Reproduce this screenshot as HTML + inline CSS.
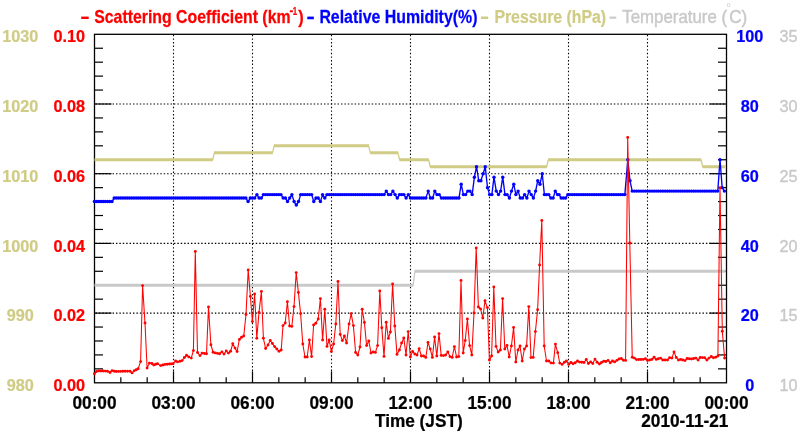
<!DOCTYPE html>
<html><head><meta charset="utf-8"><title>Scattering Coefficient 2010-11-21</title>
<style>html,body{margin:0;padding:0;background:#fff}svg{display:block;will-change:transform;opacity:0.9999}text{font-family:"Liberation Sans",Arial,Helvetica,sans-serif}</style>
</head><body>
<svg width="800" height="434" viewBox="0 0 800 434">
<rect x="0" y="0" width="800" height="434" fill="#ffffff"/>
<g stroke="#000" stroke-width="1.1" stroke-dasharray="1.4 2.2" fill="none">
<line x1="173.50" y1="381.80" x2="173.50" y2="34.30"/>
<line x1="252.50" y1="381.80" x2="252.50" y2="34.30"/>
<line x1="331.50" y1="381.80" x2="331.50" y2="34.30"/>
<line x1="410.50" y1="381.80" x2="410.50" y2="34.30"/>
<line x1="489.50" y1="381.80" x2="489.50" y2="34.30"/>
<line x1="568.50" y1="381.80" x2="568.50" y2="34.30"/>
<line x1="647.50" y1="381.80" x2="647.50" y2="34.30"/>
</g>
<g stroke="#000" stroke-width="1.1" stroke-dasharray="1.45 1.96" fill="none">
<line x1="95.50" y1="313.10" x2="726.50" y2="313.10"/>
<line x1="95.50" y1="243.40" x2="726.50" y2="243.40"/>
<line x1="95.50" y1="173.70" x2="726.50" y2="173.70"/>
<line x1="95.50" y1="104.00" x2="726.50" y2="104.00"/>
</g>
<g stroke="#000" stroke-width="1.2" fill="none">
<line x1="94.50" y1="368.86" x2="103.00" y2="368.86"/>
<line x1="726.50" y1="368.86" x2="718.00" y2="368.86"/>
<line x1="94.50" y1="354.92" x2="103.00" y2="354.92"/>
<line x1="726.50" y1="354.92" x2="718.00" y2="354.92"/>
<line x1="94.50" y1="340.98" x2="103.00" y2="340.98"/>
<line x1="726.50" y1="340.98" x2="718.00" y2="340.98"/>
<line x1="94.50" y1="327.04" x2="103.00" y2="327.04"/>
<line x1="726.50" y1="327.04" x2="718.00" y2="327.04"/>
<line x1="94.50" y1="313.10" x2="111.50" y2="313.10"/>
<line x1="726.50" y1="313.10" x2="709.50" y2="313.10"/>
<line x1="94.50" y1="299.16" x2="103.00" y2="299.16"/>
<line x1="726.50" y1="299.16" x2="718.00" y2="299.16"/>
<line x1="94.50" y1="285.22" x2="103.00" y2="285.22"/>
<line x1="726.50" y1="285.22" x2="718.00" y2="285.22"/>
<line x1="94.50" y1="271.28" x2="103.00" y2="271.28"/>
<line x1="726.50" y1="271.28" x2="718.00" y2="271.28"/>
<line x1="94.50" y1="257.34" x2="103.00" y2="257.34"/>
<line x1="726.50" y1="257.34" x2="718.00" y2="257.34"/>
<line x1="94.50" y1="243.40" x2="111.50" y2="243.40"/>
<line x1="726.50" y1="243.40" x2="709.50" y2="243.40"/>
<line x1="94.50" y1="229.46" x2="103.00" y2="229.46"/>
<line x1="726.50" y1="229.46" x2="718.00" y2="229.46"/>
<line x1="94.50" y1="215.52" x2="103.00" y2="215.52"/>
<line x1="726.50" y1="215.52" x2="718.00" y2="215.52"/>
<line x1="94.50" y1="201.58" x2="103.00" y2="201.58"/>
<line x1="726.50" y1="201.58" x2="718.00" y2="201.58"/>
<line x1="94.50" y1="187.64" x2="103.00" y2="187.64"/>
<line x1="726.50" y1="187.64" x2="718.00" y2="187.64"/>
<line x1="94.50" y1="173.70" x2="111.50" y2="173.70"/>
<line x1="726.50" y1="173.70" x2="709.50" y2="173.70"/>
<line x1="94.50" y1="159.76" x2="103.00" y2="159.76"/>
<line x1="726.50" y1="159.76" x2="718.00" y2="159.76"/>
<line x1="94.50" y1="145.82" x2="103.00" y2="145.82"/>
<line x1="726.50" y1="145.82" x2="718.00" y2="145.82"/>
<line x1="94.50" y1="131.88" x2="103.00" y2="131.88"/>
<line x1="726.50" y1="131.88" x2="718.00" y2="131.88"/>
<line x1="94.50" y1="117.94" x2="103.00" y2="117.94"/>
<line x1="726.50" y1="117.94" x2="718.00" y2="117.94"/>
<line x1="94.50" y1="104.00" x2="111.50" y2="104.00"/>
<line x1="726.50" y1="104.00" x2="709.50" y2="104.00"/>
<line x1="94.50" y1="90.06" x2="103.00" y2="90.06"/>
<line x1="726.50" y1="90.06" x2="718.00" y2="90.06"/>
<line x1="94.50" y1="76.12" x2="103.00" y2="76.12"/>
<line x1="726.50" y1="76.12" x2="718.00" y2="76.12"/>
<line x1="94.50" y1="62.18" x2="103.00" y2="62.18"/>
<line x1="726.50" y1="62.18" x2="718.00" y2="62.18"/>
<line x1="94.50" y1="48.24" x2="103.00" y2="48.24"/>
<line x1="726.50" y1="48.24" x2="718.00" y2="48.24"/>
<line x1="120.83" y1="382.80" x2="120.83" y2="377.30"/>
<line x1="147.17" y1="382.80" x2="147.17" y2="377.30"/>
<line x1="173.50" y1="382.80" x2="173.50" y2="371.30"/>
<line x1="199.83" y1="382.80" x2="199.83" y2="377.30"/>
<line x1="226.17" y1="382.80" x2="226.17" y2="377.30"/>
<line x1="252.50" y1="382.80" x2="252.50" y2="371.30"/>
<line x1="278.83" y1="382.80" x2="278.83" y2="377.30"/>
<line x1="305.17" y1="382.80" x2="305.17" y2="377.30"/>
<line x1="331.50" y1="382.80" x2="331.50" y2="371.30"/>
<line x1="357.83" y1="382.80" x2="357.83" y2="377.30"/>
<line x1="384.17" y1="382.80" x2="384.17" y2="377.30"/>
<line x1="410.50" y1="382.80" x2="410.50" y2="371.30"/>
<line x1="436.83" y1="382.80" x2="436.83" y2="377.30"/>
<line x1="463.17" y1="382.80" x2="463.17" y2="377.30"/>
<line x1="489.50" y1="382.80" x2="489.50" y2="371.30"/>
<line x1="515.83" y1="382.80" x2="515.83" y2="377.30"/>
<line x1="542.17" y1="382.80" x2="542.17" y2="377.30"/>
<line x1="568.50" y1="382.80" x2="568.50" y2="371.30"/>
<line x1="594.83" y1="382.80" x2="594.83" y2="377.30"/>
<line x1="621.17" y1="382.80" x2="621.17" y2="377.30"/>
<line x1="647.50" y1="382.80" x2="647.50" y2="371.30"/>
<line x1="673.83" y1="382.80" x2="673.83" y2="377.30"/>
<line x1="700.17" y1="382.80" x2="700.17" y2="377.30"/>
</g>
<rect x="94.50" y="34.30" width="632.00" height="348.50" fill="none" stroke="#000" stroke-width="1.3"/>
<path d="M94.50 159.76H212.95 M214.05 152.79H272.75 M273.85 145.82H368.95 M370.05 152.79H398.20 M399.30 159.76H428.85 M429.95 166.73H546.95 M548.05 159.76H701.35 M702.45 166.73H725.60" fill="none" stroke="#d0cc86" stroke-width="3.00"/>
<path d="M212.65 159.76L214.35 152.79 M272.45 152.79L274.15 145.82 M368.65 145.82L370.35 152.79 M397.90 152.79L399.60 159.76 M428.55 159.76L430.25 166.73 M546.65 166.73L548.35 159.76 M701.05 159.76L702.75 166.73" fill="none" stroke="#d0cc86" stroke-width="1.3"/>
<path d="M94.50 285.22H413.45 M414.55 271.28H725.60" fill="none" stroke="#c9c9c9" stroke-width="3.00"/>
<path d="M413.15 285.22L414.85 271.28" fill="none" stroke="#c9c9c9" stroke-width="1.3"/>
<polyline points="94.40,201.58 96.59,201.58 98.79,201.58 100.98,201.58 103.18,201.58 105.37,201.58 107.57,201.58 109.76,201.58 111.96,201.58 114.20,198.09 116.39,198.09 118.59,198.09 120.78,198.09 122.98,198.09 125.17,198.09 127.37,198.09 129.56,198.09 131.76,198.09 133.95,198.09 136.14,198.09 138.34,198.09 140.53,198.09 142.73,198.09 144.92,198.09 147.12,198.09 149.31,198.09 151.51,198.09 153.70,198.09 155.89,198.09 158.09,198.09 160.28,198.09 162.48,198.09 164.67,198.09 166.87,198.09 169.06,198.09 171.26,198.09 173.45,198.09 175.64,198.09 177.84,198.09 180.03,198.09 182.23,198.09 184.42,198.09 186.62,198.09 188.81,198.09 191.01,198.09 193.20,198.09 195.39,198.09 197.59,198.09 199.78,198.09 201.98,198.09 204.17,198.09 206.37,198.09 208.56,198.09 210.76,198.09 212.95,198.09 215.14,198.09 217.34,198.09 219.53,198.09 221.73,198.09 223.92,198.09 226.12,198.09 228.31,198.09 230.51,198.09 232.70,198.09 234.89,198.09 237.09,198.09 239.28,198.09 241.48,198.09 243.67,198.09 245.87,198.09 248.10,201.58 250.30,198.09 252.49,198.09 254.69,198.09 256.90,194.61 259.10,198.09 261.29,198.09 263.40,194.61 265.59,194.61 267.79,194.61 269.98,194.61 272.18,194.61 274.37,194.61 276.57,194.61 278.76,194.61 280.96,194.61 283.20,198.09 285.39,198.09 287.50,201.58 289.70,198.09 291.90,194.61 294.10,201.58 296.30,205.06 298.50,201.58 300.70,194.61 302.89,194.61 305.09,194.61 307.28,194.61 309.48,194.61 311.67,194.61 313.80,201.58 316.00,198.09 318.19,198.09 320.40,201.58 322.60,194.61 324.80,198.09 327.00,194.61 329.19,194.61 331.39,194.61 333.58,194.61 335.78,194.61 337.97,194.61 340.17,194.61 342.36,194.61 344.56,194.61 346.75,194.61 348.94,194.61 351.14,194.61 353.33,194.61 355.53,194.61 357.72,194.61 359.92,194.61 362.11,194.61 364.31,194.61 366.50,194.61 368.69,194.61 370.89,194.61 373.08,194.61 375.28,194.61 377.47,194.61 379.67,194.61 381.86,194.61 384.06,194.61 386.30,191.12 388.50,194.61 390.69,194.61 392.90,191.12 395.10,194.61 397.30,198.09 399.50,194.61 401.69,194.61 403.89,194.61 406.10,198.09 408.30,194.61 410.50,198.09 412.69,198.09 414.89,198.09 417.08,198.09 419.28,198.09 421.47,198.09 423.67,198.09 425.86,198.09 428.20,191.12 430.40,198.09 432.59,198.09 434.80,191.12 437.00,194.61 439.19,194.61 441.40,198.09 443.59,198.09 445.79,198.09 447.98,198.09 450.18,198.09 452.37,198.09 454.57,198.09 456.76,198.09 458.96,198.09 461.20,184.16 463.40,194.61 465.59,194.61 467.80,191.12 469.99,191.12 472.20,194.61 474.38,177.19 476.50,166.73 478.75,180.67 480.88,180.67 483.12,173.70 485.25,166.73 487.50,187.64 489.62,194.61 491.88,194.61 494.00,177.19 496.25,191.12 498.50,194.61 500.62,191.12 502.75,177.19 505.00,194.61 507.12,194.61 509.38,198.09 511.50,191.12 513.75,184.16 515.88,194.61 518.12,191.12 520.25,198.09 522.50,198.09 524.62,194.61 526.88,198.09 529.00,191.12 531.25,194.61 533.38,198.09 535.62,191.12 537.75,180.67 540.00,184.16 542.25,173.70 544.38,194.61 546.50,194.61 548.75,194.61 550.88,198.09 553.12,198.09 555.25,191.12 557.50,194.61 559.00,194.61 561.20,198.09 563.39,198.09 565.59,198.09 567.80,194.61 569.99,194.61 572.19,194.61 574.38,194.61 576.58,194.61 578.77,194.61 580.97,194.61 583.16,194.61 585.36,194.61 587.55,194.61 589.74,194.61 591.94,194.61 594.13,194.61 596.33,194.61 598.52,194.61 600.72,194.61 602.91,194.61 605.11,194.61 607.30,194.61 609.49,194.61 611.69,194.61 613.88,194.61 616.08,194.61 618.27,194.61 620.47,194.61 622.66,194.61 624.86,194.61 627.80,159.76 630.00,180.67 632.20,191.12 634.39,191.12 636.59,191.12 638.78,191.12 640.98,191.12 643.17,191.12 645.37,191.12 647.56,191.12 649.76,191.12 651.95,191.12 654.14,191.12 656.34,191.12 658.53,191.12 660.73,191.12 662.92,191.12 665.12,191.12 667.31,191.12 669.51,191.12 671.70,191.12 673.89,191.12 676.09,191.12 678.28,191.12 680.48,191.12 682.67,191.12 684.87,191.12 687.06,191.12 689.26,191.12 691.45,191.12 693.64,191.12 695.84,191.12 698.03,191.12 700.23,191.12 702.42,191.12 704.62,191.12 706.81,191.12 709.01,191.12 711.20,191.12 713.39,191.12 715.59,191.12 717.78,191.12 720.00,159.76 722.20,187.64 724.40,191.12" fill="none" stroke="#0000ff" stroke-width="1.35" stroke-linejoin="round"/>
<g fill="#0000ff">
<circle cx="94.40" cy="201.58" r="1.72"/>
<circle cx="96.59" cy="201.58" r="1.72"/>
<circle cx="98.79" cy="201.58" r="1.72"/>
<circle cx="100.98" cy="201.58" r="1.72"/>
<circle cx="103.18" cy="201.58" r="1.72"/>
<circle cx="105.37" cy="201.58" r="1.72"/>
<circle cx="107.57" cy="201.58" r="1.72"/>
<circle cx="109.76" cy="201.58" r="1.72"/>
<circle cx="111.96" cy="201.58" r="1.72"/>
<circle cx="114.20" cy="198.09" r="1.72"/>
<circle cx="116.39" cy="198.09" r="1.72"/>
<circle cx="118.59" cy="198.09" r="1.72"/>
<circle cx="120.78" cy="198.09" r="1.72"/>
<circle cx="122.98" cy="198.09" r="1.72"/>
<circle cx="125.17" cy="198.09" r="1.72"/>
<circle cx="127.37" cy="198.09" r="1.72"/>
<circle cx="129.56" cy="198.09" r="1.72"/>
<circle cx="131.76" cy="198.09" r="1.72"/>
<circle cx="133.95" cy="198.09" r="1.72"/>
<circle cx="136.14" cy="198.09" r="1.72"/>
<circle cx="138.34" cy="198.09" r="1.72"/>
<circle cx="140.53" cy="198.09" r="1.72"/>
<circle cx="142.73" cy="198.09" r="1.72"/>
<circle cx="144.92" cy="198.09" r="1.72"/>
<circle cx="147.12" cy="198.09" r="1.72"/>
<circle cx="149.31" cy="198.09" r="1.72"/>
<circle cx="151.51" cy="198.09" r="1.72"/>
<circle cx="153.70" cy="198.09" r="1.72"/>
<circle cx="155.89" cy="198.09" r="1.72"/>
<circle cx="158.09" cy="198.09" r="1.72"/>
<circle cx="160.28" cy="198.09" r="1.72"/>
<circle cx="162.48" cy="198.09" r="1.72"/>
<circle cx="164.67" cy="198.09" r="1.72"/>
<circle cx="166.87" cy="198.09" r="1.72"/>
<circle cx="169.06" cy="198.09" r="1.72"/>
<circle cx="171.26" cy="198.09" r="1.72"/>
<circle cx="173.45" cy="198.09" r="1.72"/>
<circle cx="175.64" cy="198.09" r="1.72"/>
<circle cx="177.84" cy="198.09" r="1.72"/>
<circle cx="180.03" cy="198.09" r="1.72"/>
<circle cx="182.23" cy="198.09" r="1.72"/>
<circle cx="184.42" cy="198.09" r="1.72"/>
<circle cx="186.62" cy="198.09" r="1.72"/>
<circle cx="188.81" cy="198.09" r="1.72"/>
<circle cx="191.01" cy="198.09" r="1.72"/>
<circle cx="193.20" cy="198.09" r="1.72"/>
<circle cx="195.39" cy="198.09" r="1.72"/>
<circle cx="197.59" cy="198.09" r="1.72"/>
<circle cx="199.78" cy="198.09" r="1.72"/>
<circle cx="201.98" cy="198.09" r="1.72"/>
<circle cx="204.17" cy="198.09" r="1.72"/>
<circle cx="206.37" cy="198.09" r="1.72"/>
<circle cx="208.56" cy="198.09" r="1.72"/>
<circle cx="210.76" cy="198.09" r="1.72"/>
<circle cx="212.95" cy="198.09" r="1.72"/>
<circle cx="215.14" cy="198.09" r="1.72"/>
<circle cx="217.34" cy="198.09" r="1.72"/>
<circle cx="219.53" cy="198.09" r="1.72"/>
<circle cx="221.73" cy="198.09" r="1.72"/>
<circle cx="223.92" cy="198.09" r="1.72"/>
<circle cx="226.12" cy="198.09" r="1.72"/>
<circle cx="228.31" cy="198.09" r="1.72"/>
<circle cx="230.51" cy="198.09" r="1.72"/>
<circle cx="232.70" cy="198.09" r="1.72"/>
<circle cx="234.89" cy="198.09" r="1.72"/>
<circle cx="237.09" cy="198.09" r="1.72"/>
<circle cx="239.28" cy="198.09" r="1.72"/>
<circle cx="241.48" cy="198.09" r="1.72"/>
<circle cx="243.67" cy="198.09" r="1.72"/>
<circle cx="245.87" cy="198.09" r="1.72"/>
<circle cx="248.10" cy="201.58" r="1.72"/>
<circle cx="250.30" cy="198.09" r="1.72"/>
<circle cx="252.49" cy="198.09" r="1.72"/>
<circle cx="254.69" cy="198.09" r="1.72"/>
<circle cx="256.90" cy="194.61" r="1.72"/>
<circle cx="259.10" cy="198.09" r="1.72"/>
<circle cx="261.29" cy="198.09" r="1.72"/>
<circle cx="263.40" cy="194.61" r="1.72"/>
<circle cx="265.59" cy="194.61" r="1.72"/>
<circle cx="267.79" cy="194.61" r="1.72"/>
<circle cx="269.98" cy="194.61" r="1.72"/>
<circle cx="272.18" cy="194.61" r="1.72"/>
<circle cx="274.37" cy="194.61" r="1.72"/>
<circle cx="276.57" cy="194.61" r="1.72"/>
<circle cx="278.76" cy="194.61" r="1.72"/>
<circle cx="280.96" cy="194.61" r="1.72"/>
<circle cx="283.20" cy="198.09" r="1.72"/>
<circle cx="285.39" cy="198.09" r="1.72"/>
<circle cx="287.50" cy="201.58" r="1.72"/>
<circle cx="289.70" cy="198.09" r="1.72"/>
<circle cx="291.90" cy="194.61" r="1.72"/>
<circle cx="294.10" cy="201.58" r="1.72"/>
<circle cx="296.30" cy="205.06" r="1.72"/>
<circle cx="298.50" cy="201.58" r="1.72"/>
<circle cx="300.70" cy="194.61" r="1.72"/>
<circle cx="302.89" cy="194.61" r="1.72"/>
<circle cx="305.09" cy="194.61" r="1.72"/>
<circle cx="307.28" cy="194.61" r="1.72"/>
<circle cx="309.48" cy="194.61" r="1.72"/>
<circle cx="311.67" cy="194.61" r="1.72"/>
<circle cx="313.80" cy="201.58" r="1.72"/>
<circle cx="316.00" cy="198.09" r="1.72"/>
<circle cx="318.19" cy="198.09" r="1.72"/>
<circle cx="320.40" cy="201.58" r="1.72"/>
<circle cx="322.60" cy="194.61" r="1.72"/>
<circle cx="324.80" cy="198.09" r="1.72"/>
<circle cx="327.00" cy="194.61" r="1.72"/>
<circle cx="329.19" cy="194.61" r="1.72"/>
<circle cx="331.39" cy="194.61" r="1.72"/>
<circle cx="333.58" cy="194.61" r="1.72"/>
<circle cx="335.78" cy="194.61" r="1.72"/>
<circle cx="337.97" cy="194.61" r="1.72"/>
<circle cx="340.17" cy="194.61" r="1.72"/>
<circle cx="342.36" cy="194.61" r="1.72"/>
<circle cx="344.56" cy="194.61" r="1.72"/>
<circle cx="346.75" cy="194.61" r="1.72"/>
<circle cx="348.94" cy="194.61" r="1.72"/>
<circle cx="351.14" cy="194.61" r="1.72"/>
<circle cx="353.33" cy="194.61" r="1.72"/>
<circle cx="355.53" cy="194.61" r="1.72"/>
<circle cx="357.72" cy="194.61" r="1.72"/>
<circle cx="359.92" cy="194.61" r="1.72"/>
<circle cx="362.11" cy="194.61" r="1.72"/>
<circle cx="364.31" cy="194.61" r="1.72"/>
<circle cx="366.50" cy="194.61" r="1.72"/>
<circle cx="368.69" cy="194.61" r="1.72"/>
<circle cx="370.89" cy="194.61" r="1.72"/>
<circle cx="373.08" cy="194.61" r="1.72"/>
<circle cx="375.28" cy="194.61" r="1.72"/>
<circle cx="377.47" cy="194.61" r="1.72"/>
<circle cx="379.67" cy="194.61" r="1.72"/>
<circle cx="381.86" cy="194.61" r="1.72"/>
<circle cx="384.06" cy="194.61" r="1.72"/>
<circle cx="386.30" cy="191.12" r="1.72"/>
<circle cx="388.50" cy="194.61" r="1.72"/>
<circle cx="390.69" cy="194.61" r="1.72"/>
<circle cx="392.90" cy="191.12" r="1.72"/>
<circle cx="395.10" cy="194.61" r="1.72"/>
<circle cx="397.30" cy="198.09" r="1.72"/>
<circle cx="399.50" cy="194.61" r="1.72"/>
<circle cx="401.69" cy="194.61" r="1.72"/>
<circle cx="403.89" cy="194.61" r="1.72"/>
<circle cx="406.10" cy="198.09" r="1.72"/>
<circle cx="408.30" cy="194.61" r="1.72"/>
<circle cx="410.50" cy="198.09" r="1.72"/>
<circle cx="412.69" cy="198.09" r="1.72"/>
<circle cx="414.89" cy="198.09" r="1.72"/>
<circle cx="417.08" cy="198.09" r="1.72"/>
<circle cx="419.28" cy="198.09" r="1.72"/>
<circle cx="421.47" cy="198.09" r="1.72"/>
<circle cx="423.67" cy="198.09" r="1.72"/>
<circle cx="425.86" cy="198.09" r="1.72"/>
<circle cx="428.20" cy="191.12" r="1.72"/>
<circle cx="430.40" cy="198.09" r="1.72"/>
<circle cx="432.59" cy="198.09" r="1.72"/>
<circle cx="434.80" cy="191.12" r="1.72"/>
<circle cx="437.00" cy="194.61" r="1.72"/>
<circle cx="439.19" cy="194.61" r="1.72"/>
<circle cx="441.40" cy="198.09" r="1.72"/>
<circle cx="443.59" cy="198.09" r="1.72"/>
<circle cx="445.79" cy="198.09" r="1.72"/>
<circle cx="447.98" cy="198.09" r="1.72"/>
<circle cx="450.18" cy="198.09" r="1.72"/>
<circle cx="452.37" cy="198.09" r="1.72"/>
<circle cx="454.57" cy="198.09" r="1.72"/>
<circle cx="456.76" cy="198.09" r="1.72"/>
<circle cx="458.96" cy="198.09" r="1.72"/>
<circle cx="461.20" cy="184.16" r="1.72"/>
<circle cx="463.40" cy="194.61" r="1.72"/>
<circle cx="465.59" cy="194.61" r="1.72"/>
<circle cx="467.80" cy="191.12" r="1.72"/>
<circle cx="469.99" cy="191.12" r="1.72"/>
<circle cx="472.20" cy="194.61" r="1.72"/>
<circle cx="474.38" cy="177.19" r="1.72"/>
<circle cx="476.50" cy="166.73" r="1.72"/>
<circle cx="478.75" cy="180.67" r="1.72"/>
<circle cx="480.88" cy="180.67" r="1.72"/>
<circle cx="483.12" cy="173.70" r="1.72"/>
<circle cx="485.25" cy="166.73" r="1.72"/>
<circle cx="487.50" cy="187.64" r="1.72"/>
<circle cx="489.62" cy="194.61" r="1.72"/>
<circle cx="491.88" cy="194.61" r="1.72"/>
<circle cx="494.00" cy="177.19" r="1.72"/>
<circle cx="496.25" cy="191.12" r="1.72"/>
<circle cx="498.50" cy="194.61" r="1.72"/>
<circle cx="500.62" cy="191.12" r="1.72"/>
<circle cx="502.75" cy="177.19" r="1.72"/>
<circle cx="505.00" cy="194.61" r="1.72"/>
<circle cx="507.12" cy="194.61" r="1.72"/>
<circle cx="509.38" cy="198.09" r="1.72"/>
<circle cx="511.50" cy="191.12" r="1.72"/>
<circle cx="513.75" cy="184.16" r="1.72"/>
<circle cx="515.88" cy="194.61" r="1.72"/>
<circle cx="518.12" cy="191.12" r="1.72"/>
<circle cx="520.25" cy="198.09" r="1.72"/>
<circle cx="522.50" cy="198.09" r="1.72"/>
<circle cx="524.62" cy="194.61" r="1.72"/>
<circle cx="526.88" cy="198.09" r="1.72"/>
<circle cx="529.00" cy="191.12" r="1.72"/>
<circle cx="531.25" cy="194.61" r="1.72"/>
<circle cx="533.38" cy="198.09" r="1.72"/>
<circle cx="535.62" cy="191.12" r="1.72"/>
<circle cx="537.75" cy="180.67" r="1.72"/>
<circle cx="540.00" cy="184.16" r="1.72"/>
<circle cx="542.25" cy="173.70" r="1.72"/>
<circle cx="544.38" cy="194.61" r="1.72"/>
<circle cx="546.50" cy="194.61" r="1.72"/>
<circle cx="548.75" cy="194.61" r="1.72"/>
<circle cx="550.88" cy="198.09" r="1.72"/>
<circle cx="553.12" cy="198.09" r="1.72"/>
<circle cx="555.25" cy="191.12" r="1.72"/>
<circle cx="557.50" cy="194.61" r="1.72"/>
<circle cx="559.00" cy="194.61" r="1.72"/>
<circle cx="561.20" cy="198.09" r="1.72"/>
<circle cx="563.39" cy="198.09" r="1.72"/>
<circle cx="565.59" cy="198.09" r="1.72"/>
<circle cx="567.80" cy="194.61" r="1.72"/>
<circle cx="569.99" cy="194.61" r="1.72"/>
<circle cx="572.19" cy="194.61" r="1.72"/>
<circle cx="574.38" cy="194.61" r="1.72"/>
<circle cx="576.58" cy="194.61" r="1.72"/>
<circle cx="578.77" cy="194.61" r="1.72"/>
<circle cx="580.97" cy="194.61" r="1.72"/>
<circle cx="583.16" cy="194.61" r="1.72"/>
<circle cx="585.36" cy="194.61" r="1.72"/>
<circle cx="587.55" cy="194.61" r="1.72"/>
<circle cx="589.74" cy="194.61" r="1.72"/>
<circle cx="591.94" cy="194.61" r="1.72"/>
<circle cx="594.13" cy="194.61" r="1.72"/>
<circle cx="596.33" cy="194.61" r="1.72"/>
<circle cx="598.52" cy="194.61" r="1.72"/>
<circle cx="600.72" cy="194.61" r="1.72"/>
<circle cx="602.91" cy="194.61" r="1.72"/>
<circle cx="605.11" cy="194.61" r="1.72"/>
<circle cx="607.30" cy="194.61" r="1.72"/>
<circle cx="609.49" cy="194.61" r="1.72"/>
<circle cx="611.69" cy="194.61" r="1.72"/>
<circle cx="613.88" cy="194.61" r="1.72"/>
<circle cx="616.08" cy="194.61" r="1.72"/>
<circle cx="618.27" cy="194.61" r="1.72"/>
<circle cx="620.47" cy="194.61" r="1.72"/>
<circle cx="622.66" cy="194.61" r="1.72"/>
<circle cx="624.86" cy="194.61" r="1.72"/>
<circle cx="627.80" cy="159.76" r="1.72"/>
<circle cx="630.00" cy="180.67" r="1.72"/>
<circle cx="632.20" cy="191.12" r="1.72"/>
<circle cx="634.39" cy="191.12" r="1.72"/>
<circle cx="636.59" cy="191.12" r="1.72"/>
<circle cx="638.78" cy="191.12" r="1.72"/>
<circle cx="640.98" cy="191.12" r="1.72"/>
<circle cx="643.17" cy="191.12" r="1.72"/>
<circle cx="645.37" cy="191.12" r="1.72"/>
<circle cx="647.56" cy="191.12" r="1.72"/>
<circle cx="649.76" cy="191.12" r="1.72"/>
<circle cx="651.95" cy="191.12" r="1.72"/>
<circle cx="654.14" cy="191.12" r="1.72"/>
<circle cx="656.34" cy="191.12" r="1.72"/>
<circle cx="658.53" cy="191.12" r="1.72"/>
<circle cx="660.73" cy="191.12" r="1.72"/>
<circle cx="662.92" cy="191.12" r="1.72"/>
<circle cx="665.12" cy="191.12" r="1.72"/>
<circle cx="667.31" cy="191.12" r="1.72"/>
<circle cx="669.51" cy="191.12" r="1.72"/>
<circle cx="671.70" cy="191.12" r="1.72"/>
<circle cx="673.89" cy="191.12" r="1.72"/>
<circle cx="676.09" cy="191.12" r="1.72"/>
<circle cx="678.28" cy="191.12" r="1.72"/>
<circle cx="680.48" cy="191.12" r="1.72"/>
<circle cx="682.67" cy="191.12" r="1.72"/>
<circle cx="684.87" cy="191.12" r="1.72"/>
<circle cx="687.06" cy="191.12" r="1.72"/>
<circle cx="689.26" cy="191.12" r="1.72"/>
<circle cx="691.45" cy="191.12" r="1.72"/>
<circle cx="693.64" cy="191.12" r="1.72"/>
<circle cx="695.84" cy="191.12" r="1.72"/>
<circle cx="698.03" cy="191.12" r="1.72"/>
<circle cx="700.23" cy="191.12" r="1.72"/>
<circle cx="702.42" cy="191.12" r="1.72"/>
<circle cx="704.62" cy="191.12" r="1.72"/>
<circle cx="706.81" cy="191.12" r="1.72"/>
<circle cx="709.01" cy="191.12" r="1.72"/>
<circle cx="711.20" cy="191.12" r="1.72"/>
<circle cx="713.39" cy="191.12" r="1.72"/>
<circle cx="715.59" cy="191.12" r="1.72"/>
<circle cx="717.78" cy="191.12" r="1.72"/>
<circle cx="720.00" cy="159.76" r="1.72"/>
<circle cx="722.20" cy="187.64" r="1.72"/>
<circle cx="724.40" cy="191.12" r="1.72"/>
</g>
<polyline points="94.40,373.75 96.50,371.50 98.75,370.90 101.00,371.00 103.20,371.00 105.40,371.10 107.50,371.25 110.00,372.50 112.10,370.60 114.20,371.20 116.25,371.50 118.50,371.40 120.70,371.40 122.90,371.30 125.10,371.30 127.50,371.25 130.00,371.25 132.10,372.90 134.40,370.60 136.30,369.80 138.10,368.75 140.60,361.60 142.60,285.60 145.00,323.00 147.10,368.10 149.40,363.10 151.90,363.50 153.75,365.00 155.70,364.30 157.50,363.75 160.60,365.60 162.80,365.00 165.00,364.40 167.20,364.20 169.40,364.00 171.30,363.90 173.10,363.75 175.60,361.00 177.50,361.90 180.00,361.25 182.10,360.60 184.40,357.50 186.50,355.30 188.75,356.90 191.25,358.10 193.40,350.60 195.30,251.40 197.50,352.50 200.00,355.60 202.10,353.10 204.40,353.50 206.50,353.75 208.50,307.00 210.90,344.75 213.10,352.25 215.25,352.90 217.50,353.40 219.60,353.75 221.90,351.90 224.00,354.10 226.25,350.90 228.40,353.10 230.60,351.25 232.75,343.75 235.00,348.10 237.10,351.50 239.40,339.40 241.50,337.25 243.75,336.00 246.00,314.40 248.20,270.00 250.40,296.40 252.40,321.60 254.60,294.00 256.80,338.20 259.00,312.40 261.40,291.40 263.40,338.30 265.60,348.50 268.00,345.00 270.20,340.40 272.40,343.50 274.60,346.60 276.80,349.00 279.00,351.20 281.20,350.00 283.00,325.60 285.20,323.00 287.40,301.80 289.60,326.00 291.80,326.40 294.00,306.60 296.20,272.60 298.40,292.40 300.60,313.60 302.80,344.00 305.00,357.00 307.20,357.00 309.40,340.00 311.60,356.60 313.60,325.00 315.80,323.20 318.20,319.00 320.40,298.60 322.60,340.00 324.80,309.20 327.00,346.40 329.20,340.00 331.40,351.60 333.60,344.00 335.80,324.00 338.00,281.40 340.20,334.40 342.40,340.60 344.40,336.00 346.60,343.00 349.00,324.00 351.20,313.60 353.40,325.60 355.60,352.40 357.80,355.00 360.00,347.00 362.20,309.20 364.40,322.40 366.60,345.60 368.80,341.00 371.00,353.00 373.20,352.00 375.40,352.40 377.60,345.60 379.80,291.00 381.80,327.80 384.00,356.40 386.20,322.20 388.40,338.40 390.40,332.00 392.60,284.00 394.80,326.00 397.00,354.40 399.40,350.00 401.60,343.00 403.80,338.00 406.00,355.00 408.20,331.60 410.40,357.00 412.60,351.40 414.80,354.00 417.00,355.00 419.20,348.60 421.40,356.00 423.60,356.00 425.80,357.40 428.00,342.40 430.20,349.00 432.40,357.40 434.60,337.00 436.80,356.00 439.00,333.60 441.20,355.40 443.40,355.60 445.60,355.00 447.80,352.00 450.00,356.60 452.20,357.40 454.40,346.60 456.60,357.00 458.80,356.60 461.00,280.40 463.20,353.00 465.20,340.60 467.40,319.00 469.60,345.60 471.80,355.00 474.00,313.00 476.20,248.00 478.40,307.00 480.60,309.00 482.80,318.00 485.00,300.80 487.40,307.60 489.40,360.00 491.60,356.00 493.80,287.00 496.00,346.40 498.20,352.00 500.40,350.00 502.60,298.60 504.80,349.00 507.00,345.40 509.20,357.00 511.40,346.00 513.60,327.40 515.80,362.00 518.00,350.00 520.00,346.00 522.20,361.00 524.40,349.00 526.60,346.00 528.80,306.60 531.00,357.60 533.20,357.40 535.40,331.60 537.60,309.80 539.60,265.00 541.80,220.40 544.20,346.00 546.50,361.00 548.75,361.00 551.00,362.90 553.40,363.10 555.40,344.10 557.75,352.75 559.75,363.10 562.10,364.40 564.40,362.25 566.50,361.00 568.75,364.40 570.90,362.50 573.10,363.75 575.25,362.75 577.50,361.00 579.60,362.10 581.80,362.30 584.00,362.50 586.25,359.40 588.40,363.50 590.60,361.90 592.75,363.50 595.00,359.10 597.10,362.25 599.40,364.00 601.50,362.50 603.75,361.25 605.90,361.50 608.10,360.40 610.25,362.75 612.50,361.00 614.60,361.90 616.90,360.40 619.00,359.00 621.25,358.50 623.40,360.25 625.60,360.40 627.70,137.40 629.80,243.00 632.25,357.25 634.40,358.10 636.50,359.60 638.70,359.50 640.90,359.50 643.10,359.40 645.40,358.75 647.50,360.60 649.70,360.00 651.90,359.40 654.10,357.25 656.25,359.40 658.40,358.70 660.60,358.10 662.75,360.00 665.10,360.00 667.50,360.00 669.60,357.75 671.90,358.10 674.00,351.90 676.25,357.50 678.40,360.00 680.60,359.40 682.80,360.00 685.00,360.60 687.10,358.50 689.30,358.80 691.50,359.00 693.70,358.50 695.90,358.10 698.10,360.00 700.25,357.50 702.40,357.60 704.60,357.75 706.90,360.00 709.00,358.10 711.25,356.50 713.40,357.75 715.60,357.25 717.90,356.00 720.00,187.80 722.30,331.25 724.60,358.10" fill="none" stroke="#ff0000" stroke-width="1.05" stroke-linejoin="round"/>
<g fill="#ff0000">
<circle cx="94.40" cy="373.75" r="1.45"/>
<circle cx="96.50" cy="371.50" r="1.45"/>
<circle cx="98.75" cy="370.90" r="1.45"/>
<circle cx="101.00" cy="371.00" r="1.45"/>
<circle cx="103.20" cy="371.00" r="1.45"/>
<circle cx="105.40" cy="371.10" r="1.45"/>
<circle cx="107.50" cy="371.25" r="1.45"/>
<circle cx="110.00" cy="372.50" r="1.45"/>
<circle cx="112.10" cy="370.60" r="1.45"/>
<circle cx="114.20" cy="371.20" r="1.45"/>
<circle cx="116.25" cy="371.50" r="1.45"/>
<circle cx="118.50" cy="371.40" r="1.45"/>
<circle cx="120.70" cy="371.40" r="1.45"/>
<circle cx="122.90" cy="371.30" r="1.45"/>
<circle cx="125.10" cy="371.30" r="1.45"/>
<circle cx="127.50" cy="371.25" r="1.45"/>
<circle cx="130.00" cy="371.25" r="1.45"/>
<circle cx="132.10" cy="372.90" r="1.45"/>
<circle cx="134.40" cy="370.60" r="1.45"/>
<circle cx="136.30" cy="369.80" r="1.45"/>
<circle cx="138.10" cy="368.75" r="1.45"/>
<circle cx="140.60" cy="361.60" r="1.45"/>
<circle cx="142.60" cy="285.60" r="1.45"/>
<circle cx="145.00" cy="323.00" r="1.45"/>
<circle cx="147.10" cy="368.10" r="1.45"/>
<circle cx="149.40" cy="363.10" r="1.45"/>
<circle cx="151.90" cy="363.50" r="1.45"/>
<circle cx="153.75" cy="365.00" r="1.45"/>
<circle cx="155.70" cy="364.30" r="1.45"/>
<circle cx="157.50" cy="363.75" r="1.45"/>
<circle cx="160.60" cy="365.60" r="1.45"/>
<circle cx="162.80" cy="365.00" r="1.45"/>
<circle cx="165.00" cy="364.40" r="1.45"/>
<circle cx="167.20" cy="364.20" r="1.45"/>
<circle cx="169.40" cy="364.00" r="1.45"/>
<circle cx="171.30" cy="363.90" r="1.45"/>
<circle cx="173.10" cy="363.75" r="1.45"/>
<circle cx="175.60" cy="361.00" r="1.45"/>
<circle cx="177.50" cy="361.90" r="1.45"/>
<circle cx="180.00" cy="361.25" r="1.45"/>
<circle cx="182.10" cy="360.60" r="1.45"/>
<circle cx="184.40" cy="357.50" r="1.45"/>
<circle cx="186.50" cy="355.30" r="1.45"/>
<circle cx="188.75" cy="356.90" r="1.45"/>
<circle cx="191.25" cy="358.10" r="1.45"/>
<circle cx="193.40" cy="350.60" r="1.45"/>
<circle cx="195.30" cy="251.40" r="1.45"/>
<circle cx="197.50" cy="352.50" r="1.45"/>
<circle cx="200.00" cy="355.60" r="1.45"/>
<circle cx="202.10" cy="353.10" r="1.45"/>
<circle cx="204.40" cy="353.50" r="1.45"/>
<circle cx="206.50" cy="353.75" r="1.45"/>
<circle cx="208.50" cy="307.00" r="1.45"/>
<circle cx="210.90" cy="344.75" r="1.45"/>
<circle cx="213.10" cy="352.25" r="1.45"/>
<circle cx="215.25" cy="352.90" r="1.45"/>
<circle cx="217.50" cy="353.40" r="1.45"/>
<circle cx="219.60" cy="353.75" r="1.45"/>
<circle cx="221.90" cy="351.90" r="1.45"/>
<circle cx="224.00" cy="354.10" r="1.45"/>
<circle cx="226.25" cy="350.90" r="1.45"/>
<circle cx="228.40" cy="353.10" r="1.45"/>
<circle cx="230.60" cy="351.25" r="1.45"/>
<circle cx="232.75" cy="343.75" r="1.45"/>
<circle cx="235.00" cy="348.10" r="1.45"/>
<circle cx="237.10" cy="351.50" r="1.45"/>
<circle cx="239.40" cy="339.40" r="1.45"/>
<circle cx="241.50" cy="337.25" r="1.45"/>
<circle cx="243.75" cy="336.00" r="1.45"/>
<circle cx="246.00" cy="314.40" r="1.45"/>
<circle cx="248.20" cy="270.00" r="1.45"/>
<circle cx="250.40" cy="296.40" r="1.45"/>
<circle cx="252.40" cy="321.60" r="1.45"/>
<circle cx="254.60" cy="294.00" r="1.45"/>
<circle cx="256.80" cy="338.20" r="1.45"/>
<circle cx="259.00" cy="312.40" r="1.45"/>
<circle cx="261.40" cy="291.40" r="1.45"/>
<circle cx="263.40" cy="338.30" r="1.45"/>
<circle cx="265.60" cy="348.50" r="1.45"/>
<circle cx="268.00" cy="345.00" r="1.45"/>
<circle cx="270.20" cy="340.40" r="1.45"/>
<circle cx="272.40" cy="343.50" r="1.45"/>
<circle cx="274.60" cy="346.60" r="1.45"/>
<circle cx="276.80" cy="349.00" r="1.45"/>
<circle cx="279.00" cy="351.20" r="1.45"/>
<circle cx="281.20" cy="350.00" r="1.45"/>
<circle cx="283.00" cy="325.60" r="1.45"/>
<circle cx="285.20" cy="323.00" r="1.45"/>
<circle cx="287.40" cy="301.80" r="1.45"/>
<circle cx="289.60" cy="326.00" r="1.45"/>
<circle cx="291.80" cy="326.40" r="1.45"/>
<circle cx="294.00" cy="306.60" r="1.45"/>
<circle cx="296.20" cy="272.60" r="1.45"/>
<circle cx="298.40" cy="292.40" r="1.45"/>
<circle cx="300.60" cy="313.60" r="1.45"/>
<circle cx="302.80" cy="344.00" r="1.45"/>
<circle cx="305.00" cy="357.00" r="1.45"/>
<circle cx="307.20" cy="357.00" r="1.45"/>
<circle cx="309.40" cy="340.00" r="1.45"/>
<circle cx="311.60" cy="356.60" r="1.45"/>
<circle cx="313.60" cy="325.00" r="1.45"/>
<circle cx="315.80" cy="323.20" r="1.45"/>
<circle cx="318.20" cy="319.00" r="1.45"/>
<circle cx="320.40" cy="298.60" r="1.45"/>
<circle cx="322.60" cy="340.00" r="1.45"/>
<circle cx="324.80" cy="309.20" r="1.45"/>
<circle cx="327.00" cy="346.40" r="1.45"/>
<circle cx="329.20" cy="340.00" r="1.45"/>
<circle cx="331.40" cy="351.60" r="1.45"/>
<circle cx="333.60" cy="344.00" r="1.45"/>
<circle cx="335.80" cy="324.00" r="1.45"/>
<circle cx="338.00" cy="281.40" r="1.45"/>
<circle cx="340.20" cy="334.40" r="1.45"/>
<circle cx="342.40" cy="340.60" r="1.45"/>
<circle cx="344.40" cy="336.00" r="1.45"/>
<circle cx="346.60" cy="343.00" r="1.45"/>
<circle cx="349.00" cy="324.00" r="1.45"/>
<circle cx="351.20" cy="313.60" r="1.45"/>
<circle cx="353.40" cy="325.60" r="1.45"/>
<circle cx="355.60" cy="352.40" r="1.45"/>
<circle cx="357.80" cy="355.00" r="1.45"/>
<circle cx="360.00" cy="347.00" r="1.45"/>
<circle cx="362.20" cy="309.20" r="1.45"/>
<circle cx="364.40" cy="322.40" r="1.45"/>
<circle cx="366.60" cy="345.60" r="1.45"/>
<circle cx="368.80" cy="341.00" r="1.45"/>
<circle cx="371.00" cy="353.00" r="1.45"/>
<circle cx="373.20" cy="352.00" r="1.45"/>
<circle cx="375.40" cy="352.40" r="1.45"/>
<circle cx="377.60" cy="345.60" r="1.45"/>
<circle cx="379.80" cy="291.00" r="1.45"/>
<circle cx="381.80" cy="327.80" r="1.45"/>
<circle cx="384.00" cy="356.40" r="1.45"/>
<circle cx="386.20" cy="322.20" r="1.45"/>
<circle cx="388.40" cy="338.40" r="1.45"/>
<circle cx="390.40" cy="332.00" r="1.45"/>
<circle cx="392.60" cy="284.00" r="1.45"/>
<circle cx="394.80" cy="326.00" r="1.45"/>
<circle cx="397.00" cy="354.40" r="1.45"/>
<circle cx="399.40" cy="350.00" r="1.45"/>
<circle cx="401.60" cy="343.00" r="1.45"/>
<circle cx="403.80" cy="338.00" r="1.45"/>
<circle cx="406.00" cy="355.00" r="1.45"/>
<circle cx="408.20" cy="331.60" r="1.45"/>
<circle cx="410.40" cy="357.00" r="1.45"/>
<circle cx="412.60" cy="351.40" r="1.45"/>
<circle cx="414.80" cy="354.00" r="1.45"/>
<circle cx="417.00" cy="355.00" r="1.45"/>
<circle cx="419.20" cy="348.60" r="1.45"/>
<circle cx="421.40" cy="356.00" r="1.45"/>
<circle cx="423.60" cy="356.00" r="1.45"/>
<circle cx="425.80" cy="357.40" r="1.45"/>
<circle cx="428.00" cy="342.40" r="1.45"/>
<circle cx="430.20" cy="349.00" r="1.45"/>
<circle cx="432.40" cy="357.40" r="1.45"/>
<circle cx="434.60" cy="337.00" r="1.45"/>
<circle cx="436.80" cy="356.00" r="1.45"/>
<circle cx="439.00" cy="333.60" r="1.45"/>
<circle cx="441.20" cy="355.40" r="1.45"/>
<circle cx="443.40" cy="355.60" r="1.45"/>
<circle cx="445.60" cy="355.00" r="1.45"/>
<circle cx="447.80" cy="352.00" r="1.45"/>
<circle cx="450.00" cy="356.60" r="1.45"/>
<circle cx="452.20" cy="357.40" r="1.45"/>
<circle cx="454.40" cy="346.60" r="1.45"/>
<circle cx="456.60" cy="357.00" r="1.45"/>
<circle cx="458.80" cy="356.60" r="1.45"/>
<circle cx="461.00" cy="280.40" r="1.45"/>
<circle cx="463.20" cy="353.00" r="1.45"/>
<circle cx="465.20" cy="340.60" r="1.45"/>
<circle cx="467.40" cy="319.00" r="1.45"/>
<circle cx="469.60" cy="345.60" r="1.45"/>
<circle cx="471.80" cy="355.00" r="1.45"/>
<circle cx="474.00" cy="313.00" r="1.45"/>
<circle cx="476.20" cy="248.00" r="1.45"/>
<circle cx="478.40" cy="307.00" r="1.45"/>
<circle cx="480.60" cy="309.00" r="1.45"/>
<circle cx="482.80" cy="318.00" r="1.45"/>
<circle cx="485.00" cy="300.80" r="1.45"/>
<circle cx="487.40" cy="307.60" r="1.45"/>
<circle cx="489.40" cy="360.00" r="1.45"/>
<circle cx="491.60" cy="356.00" r="1.45"/>
<circle cx="493.80" cy="287.00" r="1.45"/>
<circle cx="496.00" cy="346.40" r="1.45"/>
<circle cx="498.20" cy="352.00" r="1.45"/>
<circle cx="500.40" cy="350.00" r="1.45"/>
<circle cx="502.60" cy="298.60" r="1.45"/>
<circle cx="504.80" cy="349.00" r="1.45"/>
<circle cx="507.00" cy="345.40" r="1.45"/>
<circle cx="509.20" cy="357.00" r="1.45"/>
<circle cx="511.40" cy="346.00" r="1.45"/>
<circle cx="513.60" cy="327.40" r="1.45"/>
<circle cx="515.80" cy="362.00" r="1.45"/>
<circle cx="518.00" cy="350.00" r="1.45"/>
<circle cx="520.00" cy="346.00" r="1.45"/>
<circle cx="522.20" cy="361.00" r="1.45"/>
<circle cx="524.40" cy="349.00" r="1.45"/>
<circle cx="526.60" cy="346.00" r="1.45"/>
<circle cx="528.80" cy="306.60" r="1.45"/>
<circle cx="531.00" cy="357.60" r="1.45"/>
<circle cx="533.20" cy="357.40" r="1.45"/>
<circle cx="535.40" cy="331.60" r="1.45"/>
<circle cx="537.60" cy="309.80" r="1.45"/>
<circle cx="539.60" cy="265.00" r="1.45"/>
<circle cx="541.80" cy="220.40" r="1.45"/>
<circle cx="544.20" cy="346.00" r="1.45"/>
<circle cx="546.50" cy="361.00" r="1.45"/>
<circle cx="548.75" cy="361.00" r="1.45"/>
<circle cx="551.00" cy="362.90" r="1.45"/>
<circle cx="553.40" cy="363.10" r="1.45"/>
<circle cx="555.40" cy="344.10" r="1.45"/>
<circle cx="557.75" cy="352.75" r="1.45"/>
<circle cx="559.75" cy="363.10" r="1.45"/>
<circle cx="562.10" cy="364.40" r="1.45"/>
<circle cx="564.40" cy="362.25" r="1.45"/>
<circle cx="566.50" cy="361.00" r="1.45"/>
<circle cx="568.75" cy="364.40" r="1.45"/>
<circle cx="570.90" cy="362.50" r="1.45"/>
<circle cx="573.10" cy="363.75" r="1.45"/>
<circle cx="575.25" cy="362.75" r="1.45"/>
<circle cx="577.50" cy="361.00" r="1.45"/>
<circle cx="579.60" cy="362.10" r="1.45"/>
<circle cx="581.80" cy="362.30" r="1.45"/>
<circle cx="584.00" cy="362.50" r="1.45"/>
<circle cx="586.25" cy="359.40" r="1.45"/>
<circle cx="588.40" cy="363.50" r="1.45"/>
<circle cx="590.60" cy="361.90" r="1.45"/>
<circle cx="592.75" cy="363.50" r="1.45"/>
<circle cx="595.00" cy="359.10" r="1.45"/>
<circle cx="597.10" cy="362.25" r="1.45"/>
<circle cx="599.40" cy="364.00" r="1.45"/>
<circle cx="601.50" cy="362.50" r="1.45"/>
<circle cx="603.75" cy="361.25" r="1.45"/>
<circle cx="605.90" cy="361.50" r="1.45"/>
<circle cx="608.10" cy="360.40" r="1.45"/>
<circle cx="610.25" cy="362.75" r="1.45"/>
<circle cx="612.50" cy="361.00" r="1.45"/>
<circle cx="614.60" cy="361.90" r="1.45"/>
<circle cx="616.90" cy="360.40" r="1.45"/>
<circle cx="619.00" cy="359.00" r="1.45"/>
<circle cx="621.25" cy="358.50" r="1.45"/>
<circle cx="623.40" cy="360.25" r="1.45"/>
<circle cx="625.60" cy="360.40" r="1.45"/>
<circle cx="627.70" cy="137.40" r="1.45"/>
<circle cx="629.80" cy="243.00" r="1.45"/>
<circle cx="632.25" cy="357.25" r="1.45"/>
<circle cx="634.40" cy="358.10" r="1.45"/>
<circle cx="636.50" cy="359.60" r="1.45"/>
<circle cx="638.70" cy="359.50" r="1.45"/>
<circle cx="640.90" cy="359.50" r="1.45"/>
<circle cx="643.10" cy="359.40" r="1.45"/>
<circle cx="645.40" cy="358.75" r="1.45"/>
<circle cx="647.50" cy="360.60" r="1.45"/>
<circle cx="649.70" cy="360.00" r="1.45"/>
<circle cx="651.90" cy="359.40" r="1.45"/>
<circle cx="654.10" cy="357.25" r="1.45"/>
<circle cx="656.25" cy="359.40" r="1.45"/>
<circle cx="658.40" cy="358.70" r="1.45"/>
<circle cx="660.60" cy="358.10" r="1.45"/>
<circle cx="662.75" cy="360.00" r="1.45"/>
<circle cx="665.10" cy="360.00" r="1.45"/>
<circle cx="667.50" cy="360.00" r="1.45"/>
<circle cx="669.60" cy="357.75" r="1.45"/>
<circle cx="671.90" cy="358.10" r="1.45"/>
<circle cx="674.00" cy="351.90" r="1.45"/>
<circle cx="676.25" cy="357.50" r="1.45"/>
<circle cx="678.40" cy="360.00" r="1.45"/>
<circle cx="680.60" cy="359.40" r="1.45"/>
<circle cx="682.80" cy="360.00" r="1.45"/>
<circle cx="685.00" cy="360.60" r="1.45"/>
<circle cx="687.10" cy="358.50" r="1.45"/>
<circle cx="689.30" cy="358.80" r="1.45"/>
<circle cx="691.50" cy="359.00" r="1.45"/>
<circle cx="693.70" cy="358.50" r="1.45"/>
<circle cx="695.90" cy="358.10" r="1.45"/>
<circle cx="698.10" cy="360.00" r="1.45"/>
<circle cx="700.25" cy="357.50" r="1.45"/>
<circle cx="702.40" cy="357.60" r="1.45"/>
<circle cx="704.60" cy="357.75" r="1.45"/>
<circle cx="706.90" cy="360.00" r="1.45"/>
<circle cx="709.00" cy="358.10" r="1.45"/>
<circle cx="711.25" cy="356.50" r="1.45"/>
<circle cx="713.40" cy="357.75" r="1.45"/>
<circle cx="715.60" cy="357.25" r="1.45"/>
<circle cx="717.90" cy="356.00" r="1.45"/>
<circle cx="720.00" cy="187.80" r="1.45"/>
<circle cx="722.30" cy="331.25" r="1.45"/>
<circle cx="724.60" cy="358.10" r="1.45"/>
</g>
<text transform="translate(80.28,23.05) scale(1.5301,1.0000)" font-size="18.30px" font-weight="bold" stroke="#ff0000" stroke-width="0.25" fill="#ff0000">-</text>
<text transform="translate(94.22,23.05) scale(0.8663,1.0000)" font-size="18.30px" font-weight="bold" stroke="#ff0000" stroke-width="0.25" fill="#ff0000">Scattering Coefficient (km</text>
<text transform="translate(289.55,15.05) scale(0.9333,1.0000)" font-size="12.00px" font-weight="bold" stroke="#ff0000" stroke-width="0.25" fill="#ff0000">-</text>
<text transform="translate(292.73,15.05) scale(0.6787,1.0000)" font-size="11.60px" font-weight="bold" stroke="#ff0000" stroke-width="0.25" fill="#ff0000">1</text>
<text transform="translate(298.20,23.05) scale(0.8977,1.0000)" font-size="18.30px" font-weight="bold" stroke="#ff0000" stroke-width="0.25" fill="#ff0000">)</text>
<text transform="translate(306.61,23.05) scale(1.3552,1.0000)" font-size="18.30px" font-weight="bold" stroke="#0000ff" stroke-width="0.25" fill="#0000ff">-</text>
<text transform="translate(319.39,23.05) scale(0.8694,1.0000)" font-size="18.30px" font-weight="bold" stroke="#0000ff" stroke-width="0.25" fill="#0000ff">Relative Humidity(%)</text>
<text transform="translate(480.11,23.05) scale(1.4863,1.0000)" font-size="18.30px" font-weight="bold" stroke="#d0cc86" stroke-width="0.25" fill="#d0cc86">-</text>
<text transform="translate(494.39,23.05) scale(0.8646,1.0000)" font-size="18.30px" font-weight="bold" stroke="#d0cc86" stroke-width="0.25" fill="#d0cc86">Pressure (hPa)</text>
<g stroke="#c9c9c9" stroke-width="0.45">
<text transform="translate(608.79,23.05) scale(1.3770,1.0000)" font-size="18.30px" fill="#c9c9c9">-</text>
<text transform="translate(622.26,23.05) scale(0.9201,1.0000)" font-size="18.30px" fill="#c9c9c9">Temperature (</text>
<text transform="translate(729.14,23.05) scale(0.9359,1.0000)" font-size="18.30px" fill="#c9c9c9">C)</text>
</g>
<text transform="translate(726.63,6.60) scale(1.0638,1.0000)" font-size="6.40px" fill="#c9c9c9">o</text>
<text transform="translate(20.20,390.90) scale(0.9400,1)" font-size="17.30px" font-weight="bold" stroke="#d0cc86" stroke-width="0.25" fill="#d0cc86" text-anchor="middle">980</text>
<text transform="translate(69.30,390.90) scale(0.9400,1)" font-size="17.30px" font-weight="bold" stroke="#ff0000" stroke-width="0.25" fill="#ff0000" text-anchor="middle">0.00</text>
<text transform="translate(749.80,390.90) scale(0.9400,1)" font-size="17.30px" font-weight="bold" stroke="#0000ff" stroke-width="0.25" fill="#0000ff" text-anchor="middle">0</text>
<g stroke="#c9c9c9" stroke-width="0.4"><text transform="translate(788.60,390.90) scale(0.9400,1)" font-size="17.30px" fill="#c9c9c9" text-anchor="middle">10</text></g>
<text transform="translate(20.20,321.20) scale(0.9400,1)" font-size="17.30px" font-weight="bold" stroke="#d0cc86" stroke-width="0.25" fill="#d0cc86" text-anchor="middle">990</text>
<text transform="translate(69.30,321.20) scale(0.9400,1)" font-size="17.30px" font-weight="bold" stroke="#ff0000" stroke-width="0.25" fill="#ff0000" text-anchor="middle">0.02</text>
<text transform="translate(749.80,321.20) scale(0.9400,1)" font-size="17.30px" font-weight="bold" stroke="#0000ff" stroke-width="0.25" fill="#0000ff" text-anchor="middle">20</text>
<g stroke="#c9c9c9" stroke-width="0.4"><text transform="translate(788.60,321.20) scale(0.9400,1)" font-size="17.30px" fill="#c9c9c9" text-anchor="middle">15</text></g>
<text transform="translate(20.20,251.50) scale(0.9400,1)" font-size="17.30px" font-weight="bold" stroke="#d0cc86" stroke-width="0.25" fill="#d0cc86" text-anchor="middle">1000</text>
<text transform="translate(69.30,251.50) scale(0.9400,1)" font-size="17.30px" font-weight="bold" stroke="#ff0000" stroke-width="0.25" fill="#ff0000" text-anchor="middle">0.04</text>
<text transform="translate(749.80,251.50) scale(0.9400,1)" font-size="17.30px" font-weight="bold" stroke="#0000ff" stroke-width="0.25" fill="#0000ff" text-anchor="middle">40</text>
<g stroke="#c9c9c9" stroke-width="0.4"><text transform="translate(788.60,251.50) scale(0.9400,1)" font-size="17.30px" fill="#c9c9c9" text-anchor="middle">20</text></g>
<text transform="translate(20.20,181.80) scale(0.9400,1)" font-size="17.30px" font-weight="bold" stroke="#d0cc86" stroke-width="0.25" fill="#d0cc86" text-anchor="middle">1010</text>
<text transform="translate(69.30,181.80) scale(0.9400,1)" font-size="17.30px" font-weight="bold" stroke="#ff0000" stroke-width="0.25" fill="#ff0000" text-anchor="middle">0.06</text>
<text transform="translate(749.80,181.80) scale(0.9400,1)" font-size="17.30px" font-weight="bold" stroke="#0000ff" stroke-width="0.25" fill="#0000ff" text-anchor="middle">60</text>
<g stroke="#c9c9c9" stroke-width="0.4"><text transform="translate(788.60,181.80) scale(0.9400,1)" font-size="17.30px" fill="#c9c9c9" text-anchor="middle">25</text></g>
<text transform="translate(20.20,112.10) scale(0.9400,1)" font-size="17.30px" font-weight="bold" stroke="#d0cc86" stroke-width="0.25" fill="#d0cc86" text-anchor="middle">1020</text>
<text transform="translate(69.30,112.10) scale(0.9400,1)" font-size="17.30px" font-weight="bold" stroke="#ff0000" stroke-width="0.25" fill="#ff0000" text-anchor="middle">0.08</text>
<text transform="translate(749.80,112.10) scale(0.9400,1)" font-size="17.30px" font-weight="bold" stroke="#0000ff" stroke-width="0.25" fill="#0000ff" text-anchor="middle">80</text>
<g stroke="#c9c9c9" stroke-width="0.4"><text transform="translate(788.60,112.10) scale(0.9400,1)" font-size="17.30px" fill="#c9c9c9" text-anchor="middle">30</text></g>
<text transform="translate(20.20,42.05) scale(0.9400,1)" font-size="17.30px" font-weight="bold" stroke="#d0cc86" stroke-width="0.25" fill="#d0cc86" text-anchor="middle">1030</text>
<text transform="translate(69.30,42.05) scale(0.9400,1)" font-size="17.30px" font-weight="bold" stroke="#ff0000" stroke-width="0.25" fill="#ff0000" text-anchor="middle">0.10</text>
<text transform="translate(749.80,42.05) scale(0.9400,1)" font-size="17.30px" font-weight="bold" stroke="#0000ff" stroke-width="0.25" fill="#0000ff" text-anchor="middle">100</text>
<g stroke="#c9c9c9" stroke-width="0.4"><text transform="translate(788.60,42.05) scale(0.9400,1)" font-size="17.30px" fill="#c9c9c9" text-anchor="middle">35</text></g>
<text transform="translate(94.50,408.60) scale(0.9360,1)" font-size="18.40px" font-weight="bold" stroke="#000" stroke-width="0.25" fill="#000" text-anchor="middle">00:00</text>
<text transform="translate(173.50,408.60) scale(0.9360,1)" font-size="18.40px" font-weight="bold" stroke="#000" stroke-width="0.25" fill="#000" text-anchor="middle">03:00</text>
<text transform="translate(252.50,408.60) scale(0.9360,1)" font-size="18.40px" font-weight="bold" stroke="#000" stroke-width="0.25" fill="#000" text-anchor="middle">06:00</text>
<text transform="translate(331.50,408.60) scale(0.9360,1)" font-size="18.40px" font-weight="bold" stroke="#000" stroke-width="0.25" fill="#000" text-anchor="middle">09:00</text>
<text transform="translate(410.50,408.60) scale(0.9360,1)" font-size="18.40px" font-weight="bold" stroke="#000" stroke-width="0.25" fill="#000" text-anchor="middle">12:00</text>
<text transform="translate(489.50,408.60) scale(0.9360,1)" font-size="18.40px" font-weight="bold" stroke="#000" stroke-width="0.25" fill="#000" text-anchor="middle">15:00</text>
<text transform="translate(568.50,408.60) scale(0.9360,1)" font-size="18.40px" font-weight="bold" stroke="#000" stroke-width="0.25" fill="#000" text-anchor="middle">18:00</text>
<text transform="translate(647.50,408.60) scale(0.9360,1)" font-size="18.40px" font-weight="bold" stroke="#000" stroke-width="0.25" fill="#000" text-anchor="middle">21:00</text>
<text transform="translate(726.50,408.60) scale(0.9360,1)" font-size="18.40px" font-weight="bold" stroke="#000" stroke-width="0.25" fill="#000" text-anchor="middle">00:00</text>
<text transform="translate(418.80,427.30) scale(0.9360,1)" font-size="18.40px" font-weight="bold" stroke="#000" stroke-width="0.25" fill="#000" text-anchor="middle">Time (JST)</text>
<text transform="translate(728.40,427.30) scale(0.9360,1)" font-size="18.40px" font-weight="bold" stroke="#000" stroke-width="0.25" fill="#000" text-anchor="end">2010-11-21</text>
</svg>
</body></html>
